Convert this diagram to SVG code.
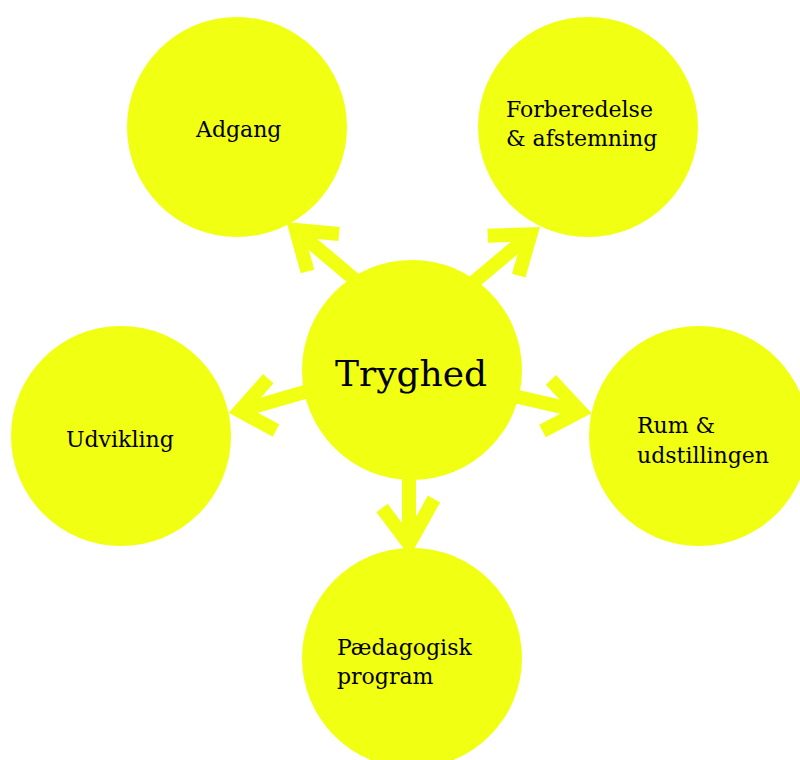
<svg xmlns="http://www.w3.org/2000/svg" width="800" height="760" viewBox="0 0 800 760">
  <style>
    .arrow { fill: none; stroke: #f1ff13; stroke-width: 14; stroke-linecap: butt; stroke-linejoin: miter; stroke-miterlimit: 10; }
    .node circle { fill: #f1ff13; }
    .label { font-family: "DejaVu Serif", "Liberation Serif", serif; font-size: 22px; fill: #000; }
    .title { font-family: "DejaVu Serif", "Liberation Serif", serif; font-size: 36px; fill: #000; }
  </style>
  <rect width="800" height="760" fill="#ffffff"/>

  <!-- connectors: shaft + open chevron head, radiating from the hub -->
  <g id="connectors">
    <g id="to-adgang">
      <line class="arrow" x1="361" y1="285" x2="296" y2="230"/>
      <polyline class="arrow" points="339,234 296,230 307.5,271.5"/>
    </g>
    <g id="to-forberedelse">
      <line class="arrow" x1="465.5" y1="289" x2="530.6" y2="234.3"/>
      <polyline class="arrow" points="487.6,235.8 530.6,234.3 518.7,275.6"/>
    </g>
    <g id="to-udvikling">
      <line class="arrow" x1="322" y1="387" x2="239.8" y2="410.9"/>
      <polyline class="arrow" points="268.3,378.7 239.8,410.9 276,430.5"/>
    </g>
    <g id="to-rum">
      <line class="arrow" x1="497.4" y1="392.2" x2="580.2" y2="411.3"/>
      <polyline class="arrow" points="550.9,379.9 580.2,411.3 542.5,431"/>
    </g>
    <g id="to-paedagogisk">
      <line class="arrow" x1="409" y1="470" x2="409" y2="544"/>
      <polyline class="arrow" points="382,508 409,544 434,499"/>
    </g>
  </g>

  <!-- nodes -->
  <g id="hub" class="node">
    <circle cx="412" cy="370" r="110"/>
    <text class="title" x="335" y="386">Tryghed</text>
  </g>
  <g id="adgang" class="node">
    <circle cx="237" cy="127" r="110"/>
    <text class="label" x="196" y="137">Adgang</text>
  </g>
  <g id="forberedelse" class="node">
    <circle cx="588" cy="127" r="110"/>
    <text class="label" x="506" y="117">Forberedelse</text>
    <text class="label" x="506" y="146">&amp; afstemning</text>
  </g>
  <g id="udvikling" class="node">
    <circle cx="121" cy="436" r="110"/>
    <text class="label" x="66" y="447">Udvikling</text>
  </g>
  <g id="rum" class="node">
    <circle cx="699" cy="436" r="110"/>
    <text class="label" x="637" y="433">Rum &amp;</text>
    <text class="label" x="637" y="463">udstillingen</text>
  </g>
  <g id="paedagogisk" class="node">
    <circle cx="412" cy="658" r="110"/>
    <text class="label" x="337" y="655">Pædagogisk</text>
    <text class="label" x="337" y="684">program</text>
  </g>
</svg>
